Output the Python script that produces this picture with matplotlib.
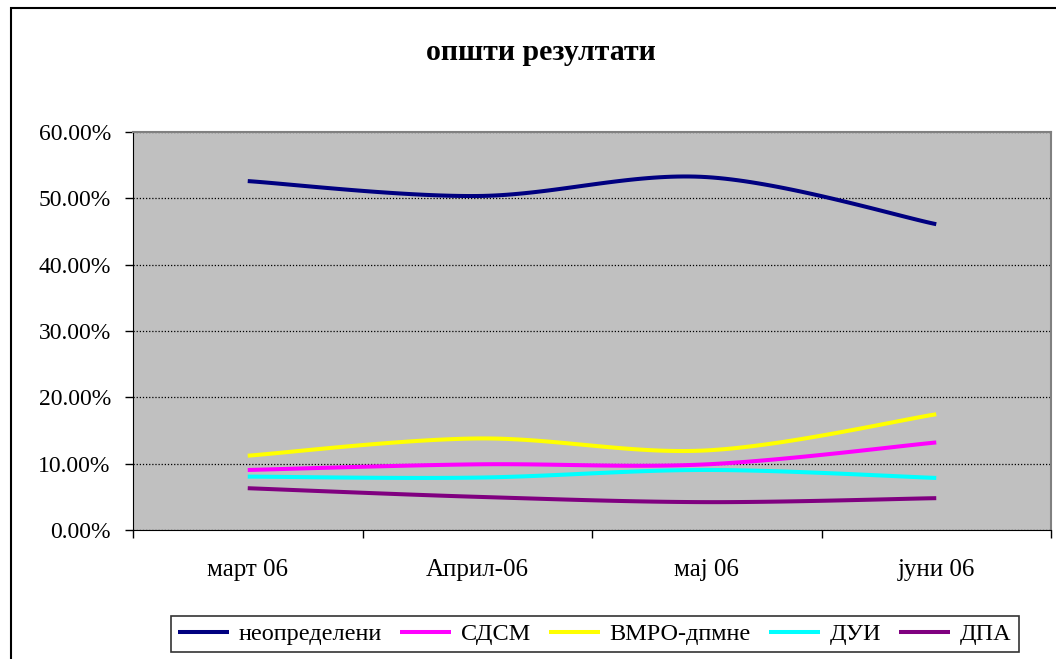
import numpy as np
import matplotlib
matplotlib.use('Agg')
import matplotlib.pyplot as plt
from matplotlib.patches import Rectangle

plt.rcParams['font.family'] = ['Liberation Serif', 'DejaVu Serif']

months = ['март 06', 'Април-06', 'мај 06', 'јуни 06']
neopredeleni = [52.6, 50.35, 53.2, 46.1]
sdsm = [9.05, 9.9, 9.9, 13.2]
vmro = [11.2, 13.8, 12.0, 17.45]
dui = [8.05, 7.9, 9.05, 7.85]
dpa = [6.3, 5.0, 4.2, 4.8]

series = [
    ('неопределени', neopredeleni, '#000080'),
    ('СДСМ', sdsm, '#FF00FF'),
    ('ВМРО-дпмне', vmro, '#FFFF00'),
    ('ДУИ', dui, '#00FFFF'),
    ('ДПА', dpa, '#800080'),
]


def smooth(xs, ys, n=40):
    # excel style smoothed line (bezier through the points)
    xs = np.asarray(xs, float)
    ys = np.asarray(ys, float)
    px = np.concatenate([[xs[0]], xs, [xs[-1]]])
    py = np.concatenate([[ys[0]], ys, [ys[-1]]])
    ox, oy = [], []
    t = np.linspace(0, 1, n)
    for i in range(1, len(px) - 2):
        p0 = np.array([px[i], py[i]])
        p3 = np.array([px[i + 1], py[i + 1]])
        c1 = p0 + (np.array([px[i + 1], py[i + 1]]) - np.array([px[i - 1], py[i - 1]])) / 6
        c2 = p3 - (np.array([px[i + 2], py[i + 2]]) - np.array([px[i], py[i]])) / 6
        b = ((1 - t) ** 3)[:, None] * p0 + (3 * (1 - t) ** 2 * t)[:, None] * c1 \
            + (3 * (1 - t) * t ** 2)[:, None] * c2 + (t ** 3)[:, None] * p3
        ox.extend(b[:, 0])
        oy.extend(b[:, 1])
    return ox, oy


fig = plt.figure(figsize=(10.56, 6.59), dpi=100)
ax = fig.add_axes([133 / 1056, 1 - 530 / 659, (1051 - 133) / 1056, (530 - 132) / 659])
ax.set_facecolor('#C0C0C0')

x = np.arange(len(months))
handles = []
for name, vals, col in series:
    sx, sy = smooth(x, vals)
    h, = ax.plot(sx, sy, color=col, lw=2.9, label=name, solid_capstyle='butt')
    handles.append(h)

ax.set_xlim(-0.5, 3.5)
ax.set_ylim(0, 60)
ax.set_yticks(np.arange(0, 61, 10))
ax.set_yticklabels(['%.2f%%' % v for v in np.arange(0, 61, 10)], fontsize=17)
ax.set_xticks(np.arange(-0.5, 4, 1))
ax.set_xticklabels([])
ax.set_xticks(x, minor=True)
ax.set_xticklabels(months, minor=True, fontsize=18)
ax.tick_params(axis='x', which='major', length=6, width=1, direction='out')
ax.tick_params(axis='x', which='minor', length=0, pad=21)
ax.tick_params(axis='y', length=6, width=1, direction='out', pad=10)
ax.yaxis.grid(True, linestyle=(0, (1, 1.5)), color='black', lw=0.9)
ax.set_axisbelow(True)

ax.spines['left'].set_color('black')
ax.spines['bottom'].set_color('black')
ax.spines['top'].set_color('#808080')
ax.spines['right'].set_color('#808080')
ax.spines['top'].set_linewidth(1.5)
ax.spines['right'].set_linewidth(1.5)

fig.text(541 / 1056, 1 - 52 / 659, 'општи резултати', ha='center', va='center',
         fontsize=21.5, fontweight='bold')

# outer chart frame
fig.patches.append(Rectangle((11 / 1056, -0.05), 1.1, 1 - 8 / 659 + 0.05,
                             transform=fig.transFigure, fill=False,
                             edgecolor='black', lw=1.5))

leg = fig.legend(handles=handles, loc='center', bbox_to_anchor=(595 / 1056, 1 - 634 / 659),
                 ncol=5, fontsize=17.5, frameon=True, fancybox=False, handlelength=2.1,
                 columnspacing=0.75, handletextpad=0.4, borderpad=0.3)
leg.get_frame().set_edgecolor('black')
leg.get_frame().set_linewidth(1.2)

plt.savefig('out.png', dpi=100)
